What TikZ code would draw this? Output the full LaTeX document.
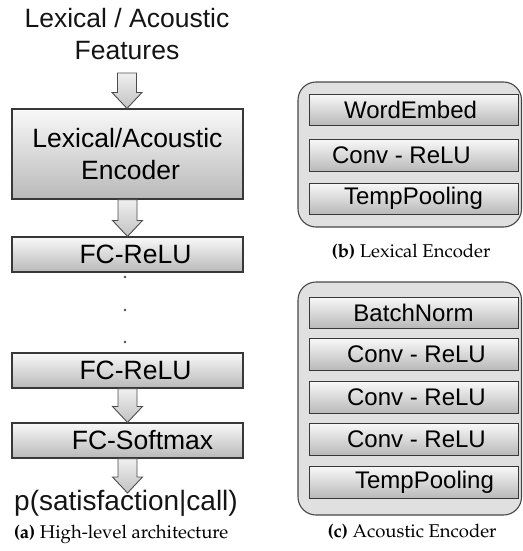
\documentclass[tikz,border=0pt]{standalone}
\usepackage[T1,TU]{fontenc}
\usepackage{fontspec}
\usetikzlibrary{calc}
\newfontfamily\diagsans{Liberation Sans}
\newcommand\capfont{\fontencoding{T1}\fontfamily{ppl}\selectfont}
% block arrow pointing down from the first anchor to the second
\newcommand\flowarrow[2]{%
  \path[blockarrow] let \p1=(#1), \p2=(#2) in
    (\x1-9.5pt,\y1) -- (\x1+9.5pt,\y1) -- (\x1+9.5pt,\y2+16pt)
    -- (\x1+15pt,\y2+16pt) -- (\x1,\y2) -- (\x1-15pt,\y2+16pt)
    -- (\x1-9.5pt,\y2+16pt) -- cycle;}
\tikzset{
  layer/.style={draw=black!78, line width=1.1pt, top color=gray!5, bottom color=gray!55,
    minimum width=231pt, minimum height=35pt, inner sep=0pt, text=black,
    font=\diagsans\fontsize{26.5}{32}\selectfont, align=center},
  sublayer/.style={draw=black!78, line width=1pt, top color=gray!5, bottom color=gray!55,
    minimum width=209pt, minimum height=31pt, inner sep=0pt, text=black,
    font=\diagsans\fontsize{24}{28}\selectfont},
  holder/.style={draw=black!72, line width=1.1pt, fill=gray!24, rounded corners=18pt,
    inner sep=0pt},
  blockarrow/.style={draw=black!70, line width=0.9pt, top color=gray!12, bottom color=gray!48},
  plain/.style={inner sep=0pt, text=black!92, font=\diagsans\fontsize{26.5}{32}\selectfont, align=center},
  caption/.style={inner sep=0pt, anchor=base, font=\capfont\fontsize{18.5}{22}\selectfont}
}
\begin{document}
\begin{tikzpicture}[x=1pt,y=-1pt]
\useasboundingbox (0,0) rectangle (522,551);

% (a) high-level architecture
\node[plain, anchor=south, text depth=13pt] (feat) at (127,73) {Lexical / Acoustic\\Features};
\node[layer, minimum height=90pt] (enc) at (127.5,154) {Lexical/Acoustic\\\hspace*{6pt}Encoder};
\node[layer] (fc1) at (127.5,254.5) {\hspace*{16pt}FC-ReLU};
\node[layer] (fc2) at (127.5,370.5) {\hspace*{16pt}FC-ReLU};
\node[layer] (fcs) at (127.5,440.5) {\hspace*{30pt}FC-Softmax};
\node[plain, anchor=north, text height=17pt, font=\diagsans\fontsize{28}{32}\selectfont] (out) at (126,493) {p(satisfaction|call)};

\flowarrow{feat.south}{enc.north}
\flowarrow{enc.south}{fc1.north}
\flowarrow{fc2.south}{fcs.north}
\flowarrow{fcs.south}{out.north}

\foreach \yy in {277,310,342} \fill[black!70] (125,\yy) circle (1.3pt);

\node[caption] (capa) at (121,538) {\textbf{(a)} High-level architecture};

% (b) lexical encoder
\node[holder, minimum width=223.5pt, minimum height=145pt] (lex) at (409.75,154.5) {};
\node[sublayer] (wemb) at (413.5,109.5) {\hspace*{-6pt}WordEmbed};
\node[sublayer, minimum height=32pt] (lconv) at (413.5,155) {\hspace*{-24pt}Conv - ReLU};
\node[sublayer] (lpool) at (413.5,198.5) {TempPooling};
\node[caption] (capb) at (411,257) {\textbf{(b)} Lexical Encoder};

% (c) acoustic encoder
\node[holder, minimum width=223.5pt, minimum height=233pt] (aco) at (409.75,398.5) {};
\node[sublayer] (bnorm) at (413.5,312.5) {BatchNorm};
\node[sublayer, minimum height=32pt] (aconv1) at (413.5,354) {\hspace*{6pt}Conv - ReLU};
\node[sublayer, minimum height=32pt] (aconv2) at (413.5,397) {\hspace*{6pt}Conv - ReLU};
\node[sublayer, minimum height=32pt] (aconv3) at (413.5,439) {\hspace*{6pt}Conv - ReLU};
\node[sublayer, minimum height=32pt] (apool) at (413.5,482) {\hspace*{22pt}TempPooling};
\node[caption] (capc) at (412,537) {\textbf{(c)} Acoustic Encoder};
\end{tikzpicture}
\end{document}
